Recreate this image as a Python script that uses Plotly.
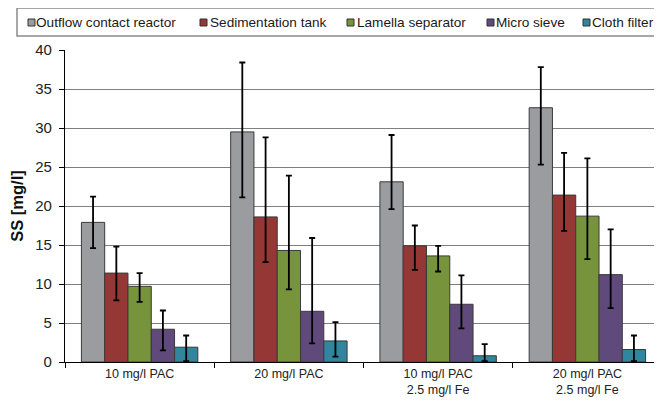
import plotly.graph_objects as go

categories = ["10 mg/l PAC", "20 mg/l PAC", "10 mg/l PAC<br>2.5 mg/l Fe", "20 mg/l PAC<br>2.5 mg/l Fe"]
series_names = ["Outflow contact reactor", "Sedimentation tank", "Lamella separator", "Micro sieve", "Cloth filter"]
outflow = [17.9, 29.5, 23.1, 32.6]
outflow_plus = [3.3, 8.9, 6.0, 5.2]
outflow_minus = [3.3, 8.4, 3.5, 7.3]
sediment = [11.4, 18.6, 14.9, 21.4]
sediment_plus = [3.4, 10.2, 2.6, 5.4]
sediment_minus = [3.5, 5.8, 3.1, 4.6]
lamella = [9.7, 14.3, 13.6, 18.7]
lamella_plus = [1.7, 9.6, 1.3, 7.4]
lamella_minus = [2.0, 5.0, 2.0, 5.5]
sieve = [4.2, 6.5, 7.4, 11.2]
sieve_plus = [2.4, 9.4, 3.7, 5.8]
sieve_minus = [2.7, 4.1, 3.1, 4.3]
cloth = [1.9, 2.7, 0.8, 1.6]
cloth_plus = [1.5, 2.4, 1.5, 1.8]
cloth_minus = [1.8, 2.0, 0.7, 1.5]
y_ticks = [0, 5, 10, 15, 20, 25, 30, 35, 40]

colors = ["#9a9c9f", "#953735", "#77933c", "#604a7b", "#31859c"]
values = [outflow, sediment, lamella, sieve, cloth]
plus = [outflow_plus, sediment_plus, lamella_plus, sieve_plus, cloth_plus]
minus = [outflow_minus, sediment_minus, lamella_minus, sieve_minus, cloth_minus]

FONT = "Arial, 'Liberation Sans', sans-serif"
OFF = 8  # page body margin
W, H = 662 - OFF, 408 - OFF
ML, MR, MT, MB = 65 - OFF, 0, 50 - OFF, 46
PW, PH = W - ML - MR, H - MT - MB

def px_x(p):
    return (p - OFF - ML) / PW

def px_y(p):
    return 1 - (p - OFF - MT) / PH

fig = go.Figure()
for name, v, ep, em, c in zip(series_names, values, plus, minus, colors):
    fig.add_trace(go.Bar(
        name=name, x=categories, y=v, marker_color=c,
        marker_line=dict(color="#3a3a3a", width=1),
        error_y=dict(type="data", symmetric=False, array=ep, arrayminus=em,
                     color="black", thickness=1.8, width=3),
        showlegend=False,
    ))

# legend (drawn manually to match compact layout)
sym_x = [28, 200, 347, 487, 583]
txt_x = [37, 211, 358, 497, 593]
shapes = [dict(type="rect", xref="paper", yref="paper",
               x0=px_x(17), x1=px_x(659), y0=px_y(36), y1=px_y(8),
               line=dict(color="#8a8a8a", width=1.5), fillcolor="white", layer="above")]
annotations = []
for sx, tx, name, c in zip(sym_x, txt_x, series_names, colors):
    shapes.append(dict(type="rect", xref="paper", yref="paper",
                       x0=px_x(sx), x1=px_x(sx + 7), y0=px_y(26), y1=px_y(19),
                       line=dict(color="#333333", width=1), fillcolor=c, layer="above"))
    annotations.append(dict(text=name, xref="paper", yref="paper", x=px_x(tx), y=px_y(22.5),
                            xanchor="left", yanchor="middle", showarrow=False,
                            xshift=-2, borderpad=0,
                            font=dict(size=13.6, color="#1a1a1a", family=FONT)))

fig.update_layout(
    width=W, height=H,
    margin=dict(l=ML, r=MR, t=MT, b=MB, autoexpand=False),
    paper_bgcolor="white", plot_bgcolor="white",
    barmode="group", bargap=0.22, bargroupgap=0,
    font=dict(family=FONT, color="#222222"),
    shapes=shapes, annotations=annotations,
    xaxis=dict(showline=True, linecolor="black", linewidth=1.2, ticks="outside", ticklen=5,
               tickcolor="black", tickson="boundaries", tickfont=dict(size=12.5, color="#222222"),
               showgrid=False, fixedrange=True),
    yaxis=dict(range=[0, 40], tickvals=y_ticks, showline=True, linecolor="black", linewidth=1.2,
               ticks="outside", ticklen=5, tickcolor="black", showgrid=True, gridcolor="#7f7f7f",
               gridwidth=1, zeroline=False, tickfont=dict(size=15, color="#222222"),
               ticklabelstandoff=4,
               title=dict(text="<b>SS [mg/l]</b>", font=dict(size=16.5, color="#111111"), standoff=8)),
)

fig.write_html("out.html")
